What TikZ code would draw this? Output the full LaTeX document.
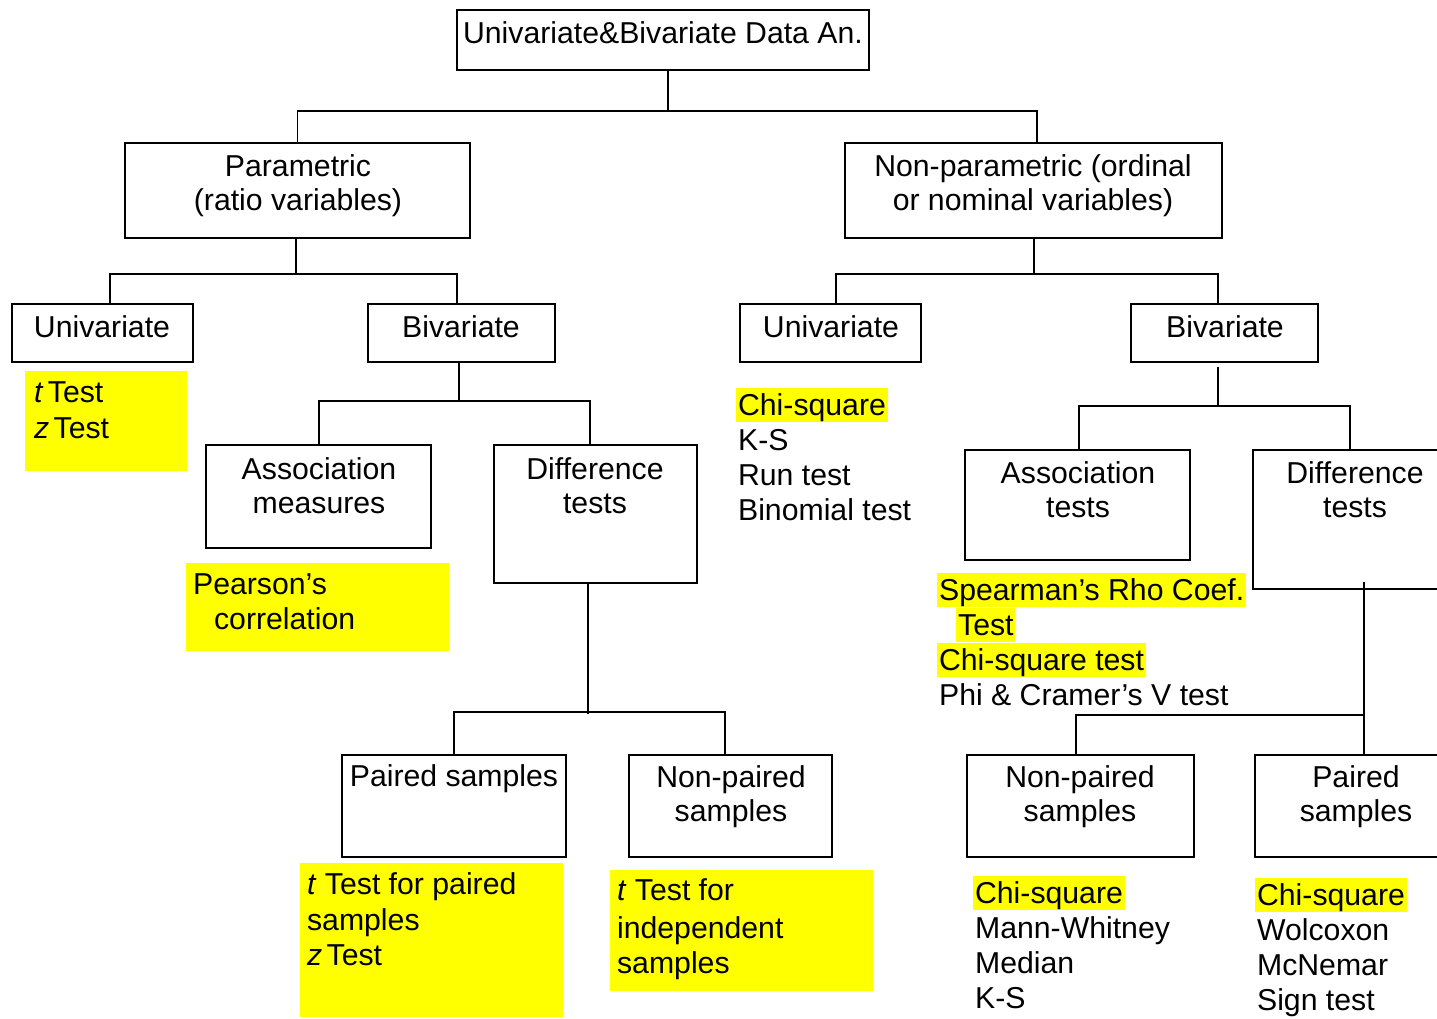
\documentclass[tikz,border=0pt]{standalone}
\usepackage{fontspec}
\setmainfont{Liberation Sans}
\definecolor{hilite}{RGB}{255,255,0}
\newlength\pxu
\setlength\pxu{0.02cm}
\begin{document}
\begin{tikzpicture}[x=0.02cm,y=-0.02cm,
  every node/.style={font=\fontsize{17.2pt}{19.8pt}\selectfont},
  box/.style={draw, line width=1.1pt, inner sep=0pt},
  lbl/.style={inner sep=0pt, align=center, yshift=-1.5pt},
  ln/.style={inner xsep=1pt, inner ysep=0pt, text height=15.6pt, text depth=3.9pt, anchor=west},
  hl/.style={ln, fill=hilite},
  yel/.style={fill=hilite, inner sep=0pt, anchor=north west},
  wire/.style={line width=1.1pt}]
\useasboundingbox (0,0) rectangle (1437,1018);
\clip (0,0) rectangle (1437,1018);

% ---------- boxes ----------
\node[box, minimum width=412\pxu, minimum height=60\pxu]  (top)    at (663,40) {};
\node[box, minimum width=345\pxu, minimum height=95\pxu]  (par)    at (297.5,190.5) {};
\node[box, minimum width=377\pxu, minimum height=95\pxu]  (np)     at (1033.5,190.5) {};
\node[box, minimum width=181\pxu, minimum height=58\pxu]  (uniL)   at (102.5,333) {};
\node[box, minimum width=187\pxu, minimum height=58\pxu]  (biL)    at (461.5,333) {};
\node[box, minimum width=225\pxu, minimum height=103\pxu] (assocL) at (318.5,496.5) {};
\node[box, minimum width=203\pxu, minimum height=138\pxu] (diffL)  at (595.5,514) {};
\node[box, minimum width=224\pxu, minimum height=102\pxu] (pairL)  at (454,806) {};
\node[box, minimum width=203\pxu, minimum height=102\pxu] (npairL) at (730.5,806) {};
\node[box, minimum width=181\pxu, minimum height=58\pxu]  (uniR)   at (830.5,333) {};
\node[box, minimum width=187\pxu, minimum height=58\pxu]  (biR)    at (1224.5,333) {};
\node[box, minimum width=225\pxu, minimum height=110\pxu] (assocR) at (1077.5,505) {};
\node[box, minimum width=204\pxu, minimum height=139\pxu] (diffR)  at (1355,519.5) {};
\node[box, minimum width=227\pxu, minimum height=102\pxu] (npairR) at (1080.5,806) {};
\node[box, minimum width=202\pxu, minimum height=102\pxu] (pairR)  at (1356,806) {};

% ---------- box captions ----------
\node[lbl] (ttop)    at (663,30.5)   {Univariate\&Bivariate Data An.};
\node[lbl] (tpar)    at (298,183)    {Parametric\\(ratio variables)};
\node[lbl] (tnp)     at (1033,183)   {Non-parametric (ordinal\\or nominal variables)};
\node[lbl] (tuniL)   at (102,324.5)  {Univariate};
\node[lbl] (tbiL)    at (461,324.5)  {Bivariate};
\node[lbl] (tassocL) at (319,483)    {Association\\measures};
\node[lbl] (tdiffL)  at (595,483)    {Difference\\tests};
\node[lbl] (tpairL)  at (454,776)    {Paired samples};
\node[lbl] (tnpairL) at (731,794)    {Non-paired\\samples};
\node[lbl] (tuniR)   at (831,324.5)  {Univariate};
\node[lbl] (tbiR)    at (1225,324.5) {Bivariate};
\node[lbl] (tassocR) at (1078,487)   {Association\\tests};
\node[lbl] (tdiffR)  at (1355,487)   {Difference\\tests};
\node[lbl] (tnpairR) at (1080,794)   {Non-paired\\samples};
\node[lbl] (tpairR)  at (1356,794)   {Paired\\samples};

% ---------- yellow panels ----------
\node[yel, minimum width=162\pxu, minimum height=100\pxu] (yA) at (25,371) {};
\node[yel, minimum width=263\pxu, minimum height=88\pxu]  (yB) at (186,563) {};
\node[yel, minimum width=263\pxu, minimum height=154\pxu] (yC) at (300,863) {};
\node[yel, minimum width=263\pxu, minimum height=121\pxu] (yD) at (610,870) {};

\node[ln] (a1) at (32,392) {\textit{t}\kern2.5pt Test};
\node[ln] (a2) at (32,428) {\textit{z}\kern2.5pt Test};
\node[ln] (b1) at (191,584) {Pearson’s};
\node[ln] (b2) at (212,619) {correlation};
\node[ln] (c1) at (305,884) {\textit{t} Test for paired};
\node[ln] (c2) at (305,920) {samples};
\node[ln] (c3) at (305,955) {\textit{z}\kern2.5pt Test};
\node[ln] (d1) at (615,890) {\textit{t} Test for};
\node[ln] (d2) at (615,928) {independent};
\node[ln] (d3) at (615,963) {samples};

% ---------- test lists ----------
\node[hl] (e1) at (736,405) {Chi-square};
\node[ln] (e2) at (736,440) {K-S};
\node[ln] (e3) at (736,475) {Run test};
\node[ln] (e4) at (736,510) {Binomial test};

\node[hl] (f1) at (937,590) {Spearman’s Rho Coef.};
\node[hl] (f2) at (956,625) {Test};
\node[hl] (f3) at (937,660) {Chi-square test};
\node[ln] (f4) at (937,695) {Phi \& Cramer’s V test};

\node[hl] (g1) at (973,893) {Chi-square};
\node[ln] (g2) at (973,928) {Mann-Whitney};
\node[ln] (g3) at (973,963) {Median};
\node[ln] (g4) at (973,998) {K-S};

\node[hl] (h1) at (1255,895) {Chi-square};
\node[ln] (h2) at (1255,930) {Wolcoxon};
\node[ln] (h3) at (1255,965) {McNemar};
\node[ln] (h4) at (1255,1000) {Sign test};

% ---------- tree connectors ----------
\coordinate (jT)  at (668,111);
\coordinate (jTR) at (1037,111);
\draw[wire] (jT |- top.south) -- (jT);
\draw[wire] (par.north) |- (jT) -- (jTR) -- (jTR |- np.north);

\coordinate (jP)  at (296,274);
\coordinate (jPL) at (110,274);
\coordinate (jPR) at (457,274);
\draw[wire] (jP |- par.south) -- (jP);
\draw[wire] (jPL |- uniL.north) -- (jPL) -- (jPR) -- (jPR |- biL.north);

\coordinate (jN)  at (1034,274);
\coordinate (jNL) at (836,274);
\coordinate (jNR) at (1218,274);
\draw[wire] (jN |- np.south) -- (jN);
\draw[wire] (jNL |- uniR.north) -- (jNL) -- (jNR) -- (jNR |- biR.north);

\coordinate (jB)  at (459,401);
\coordinate (jBL) at (319,401);
\coordinate (jBR) at (590,401);
\draw[wire] (jB |- biL.south) -- (jB);
\draw[wire] (jBL |- assocL.north) -- (jBL) -- (jBR) -- (jBR |- diffL.north);

\coordinate (jD)  at (588,714);
\coordinate (jDL) at (454,712);
\coordinate (jDR) at (725,712);
\draw[wire] (jD |- diffL.south) -- (jD);
\draw[wire] (jDL |- pairL.north) -- (jDL) -- (jDR) -- (jDR |- npairL.north);

\coordinate (sC)  at (1218,367);
\coordinate (jC)  at (1218,406);
\coordinate (jCL) at (1079,406);
\coordinate (jCR) at (1350,406);
\draw[wire] (sC) -- (jC);
\draw[wire] (jCL |- assocR.north) -- (jCL) -- (jCR) -- (jCR |- diffR.north);

\coordinate (sE)  at (1364,582);
\coordinate (jE)  at (1364,715);
\coordinate (jEL) at (1076,715);
\draw[wire] (sE) -- (sE |- pairR.north);
\draw[wire] (jE) -- (jEL) -- (jEL |- npairR.north);
\end{tikzpicture}
\end{document}
